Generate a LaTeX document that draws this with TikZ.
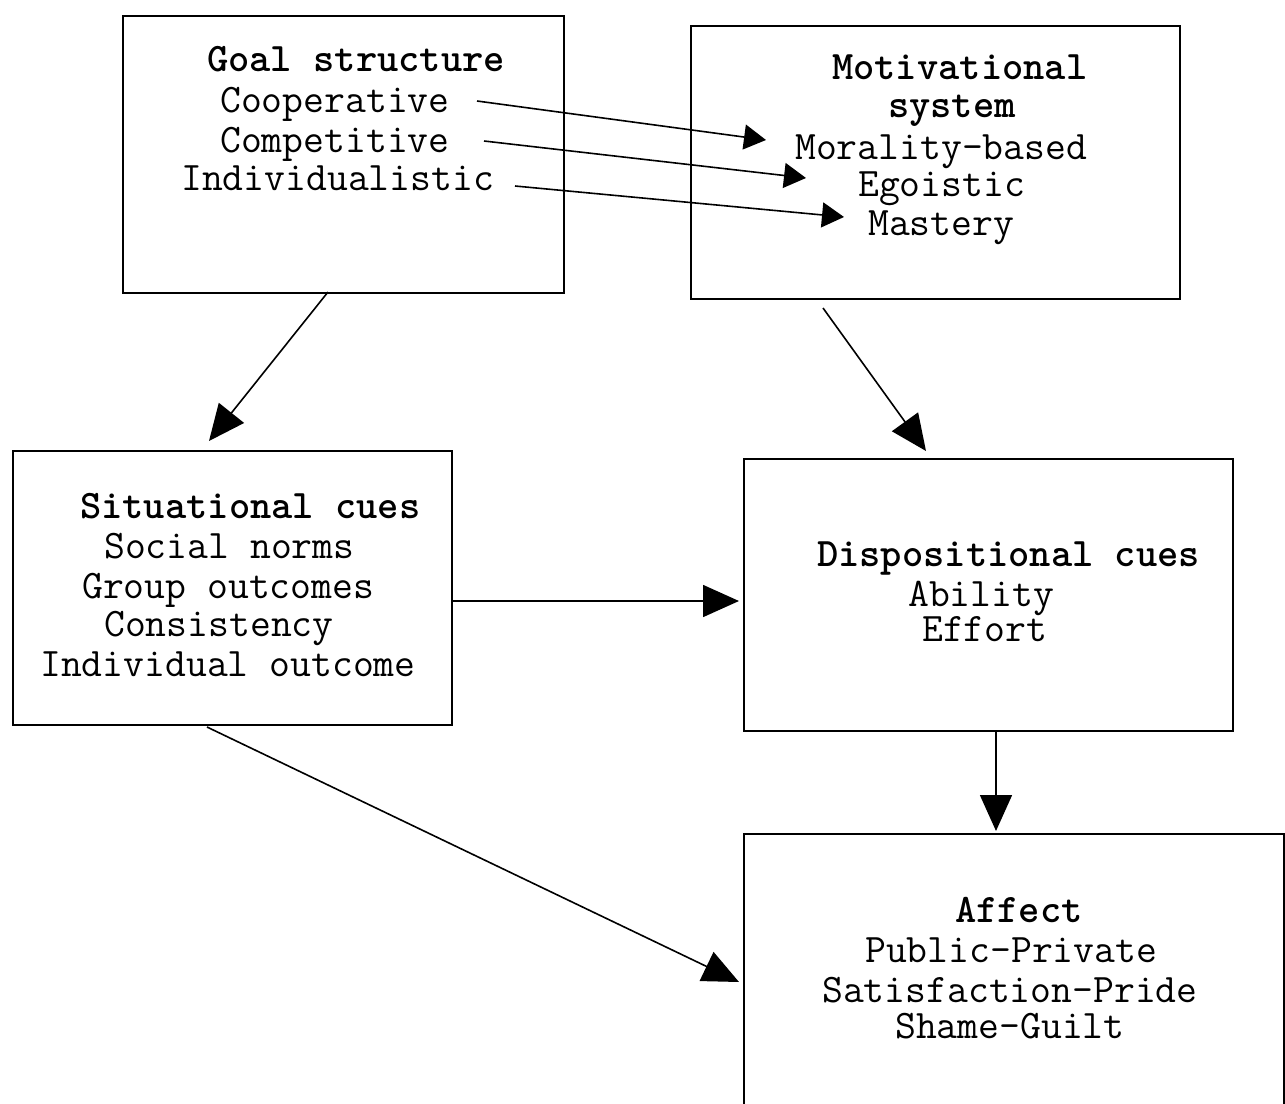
\documentclass[tikz,border=0pt]{standalone}
\usepackage{fontspec}
\usetikzlibrary{arrows.meta}
\begin{document}
\begin{tikzpicture}[x=1pt,y=-1pt,
  box/.style={draw, line width=1.8pt, rectangle, anchor=north west, inner sep=0pt},
  txt/.style={anchor=base west, inner sep=0pt, font=\ttfamily\fontsize{40.5}{44}\selectfont},
  hd/.style={anchor=base west, inner sep=0pt, font=\ttfamily\bfseries\fontsize{40.5}{44}\selectfont},
  bigarr/.style={line width=1.6pt, -{Triangle[length=36pt,width=32pt]}},
  smallarr/.style={line width=1.6pt, -{Triangle[length=22pt,width=25pt]}}]
\useasboundingbox (0,0) rectangle (1285,1103);
\clip (0,0) rectangle (1285,1103);
\fill[white] (0,0) rectangle (1285,1103);

% boxes
\node[box, minimum width=441pt, minimum height=277pt] (goal) at (122,15) {};
\node[box, minimum width=489pt, minimum height=273pt] (motiv) at (690,25) {};
\node[box, minimum width=439pt, minimum height=274pt] (sit) at (12,450) {};
\node[box, minimum width=489pt, minimum height=272pt] (disp) at (743,458) {};
\node[box, minimum width=540pt, minimum height=320pt] (aff) at (743,833) {};

% goal structure texts
\node[hd]  (goalh) at (207,71) {Goal structure};
\node[txt] (coop)  at (220,112) {Cooperative};
\node[txt] (comp)  at (220,152) {Competitive};
\node[txt] (indiv) at (181,190) {Individualistic};

% motivational system texts
\node[hd]  (motivh1) at (832,79) {Motivational};
\node[hd]  (motivh2) at (888,117) {system};
\node[txt] (moral)   at (795,159) {Morality-based};
\node[txt] (ego)     at (858,196) {Egoistic};
\node[txt] (mast)    at (868,235) {Mastery};

% situational cues texts
\node[hd]  (sith) at (80,518) {Situational cues};
\node[txt] (soc)  at (104,558) {Social norms};
\node[txt] (grp)  at (82,598) {Group outcomes};
\node[txt] (cons) at (104,636) {Consistency};
\node[txt] (ind)  at (40,676) {Individual outcome};

% dispositional cues texts
\node[hd]  (disph) at (817,566) {Dispositional cues};
\node[txt] (abil)  at (908,606) {Ability};
\node[txt] (eff)   at (922,641) {Effort};

% affect texts
\node[hd]  (affh) at (955,922) {Affect};
\node[txt] (pub)  at (865,962) {Public-Private};
\node[txt] (sat)  at (822,1002) {Satisfaction-Pride};
\node[txt] (sha)  at (895,1038) {Shame-Guilt};

% connector end points
\coordinate (c1) at (477,101);  \coordinate (c2) at (766,140);
\coordinate (c3) at (484,141);  \coordinate (c4) at (806,178);
\coordinate (c5) at (515,186);  \coordinate (c6) at (844,217);
\coordinate (g1) at (328,292);  \coordinate (g2) at (209,441);
\coordinate (m1) at (823,308);  \coordinate (m2) at (926,451);
\coordinate (s1) at (453,601);  \coordinate (s2) at (739,601);
\coordinate (d1) at (996,732);  \coordinate (d2) at (996,831);
\coordinate (s3) at (207,727);  \coordinate (a1) at (739,982);

\draw[smallarr] (c1) -- (c2);
\draw[smallarr] (c3) -- (c4);
\draw[smallarr] (c5) -- (c6);
\draw[bigarr] (g1) -- (g2);
\draw[bigarr] (m1) -- (m2);
\draw[bigarr] (s1) -- (s2);
\draw[bigarr] (d1) -- (d2);
\draw[bigarr] (s3) -- (a1);
\end{tikzpicture}
\end{document}
